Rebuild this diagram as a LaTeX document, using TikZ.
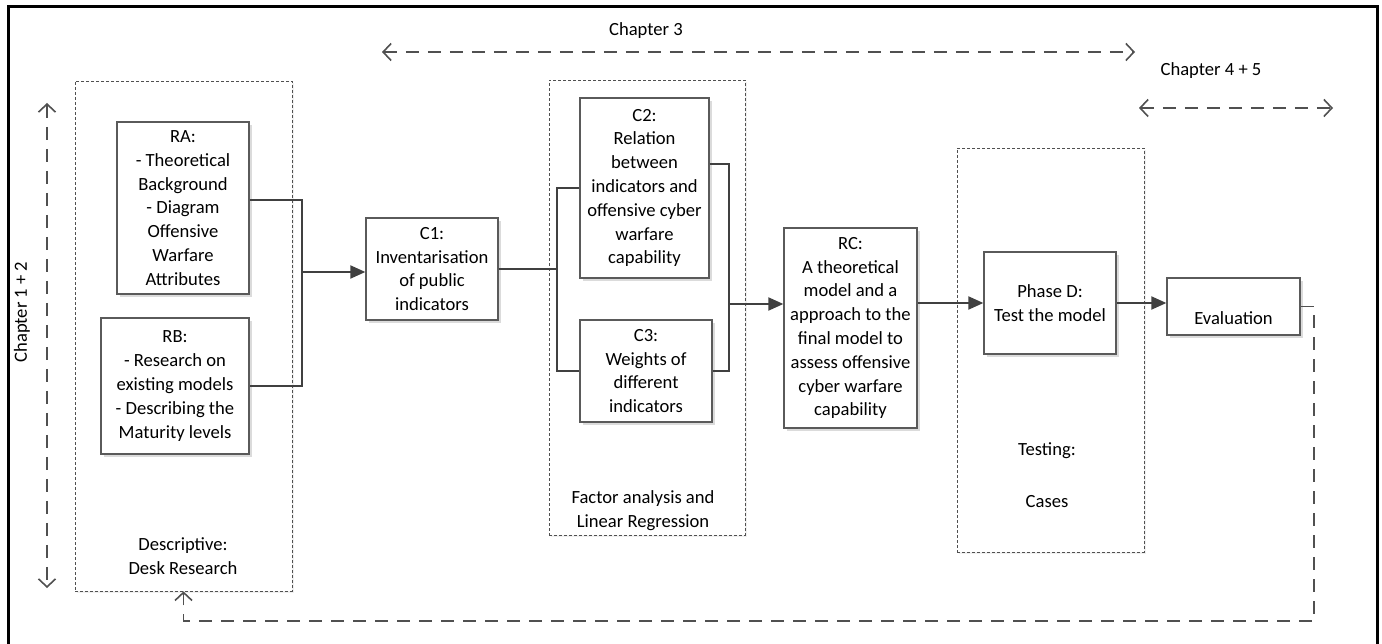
\documentclass[tikz,border=0pt]{standalone}
\usepackage{fontspec}
\setmainfont{Carlito}
\usetikzlibrary{arrows.meta,shadows}
\definecolor{boxgray}{HTML}{5A5A5A}
\definecolor{linegray}{HTML}{404040}
\definecolor{dashgray}{HTML}{505050}
\tikzset{
  every node/.style={font=\fontsize{18.6}{23.8}\selectfont, text=black},
  box/.style={draw=boxgray, line width=1.3pt, fill=white, align=center, inner sep=0pt,
    drop shadow={shadow xshift=3pt, shadow yshift=-3pt, fill=black!14, opacity=1}},
  grp/.style={draw=dashgray, line width=0.8pt, dash pattern=on 3pt off 2pt, inner sep=0pt,
    drop shadow={shadow xshift=2pt, shadow yshift=-2pt, fill=black!6, opacity=1}, fill=white},
  conn/.style={draw=linegray, line width=2pt},
  arr/.style={conn, -{Triangle[length=15pt,width=13pt]}},
  dsh/.style={draw=dashgray, line width=1.8pt, dash pattern=on 13pt off 9pt},
  barb/.tip={Straight Barb[length=8pt,width=17pt,line width=1.6pt]},
  lbl/.style={align=center, inner sep=0pt}
}
\begin{document}
\begin{tikzpicture}[x=1pt,y=-1pt]
\useasboundingbox (0,0) rectangle (1382,644);
\draw[line width=3pt] (8,670) -- (8,7) -- (1377,7) -- (1377,670);

% containers
\node[grp, minimum width=217pt, minimum height=510pt] (desk) at (183.5,336) {};
\node[grp, minimum width=196pt, minimum height=455pt] (fac) at (647,307.5) {};
\node[grp, minimum width=187pt, minimum height=404pt] (test) at (1050.5,350) {};
\node[lbl] (desklbl) at (183,556.5) {Descriptive:\\Desk Research};
\node[lbl] (faclbl) at (643,511) {Factor analysis and\\Linear Regression};
\node[lbl] (testlbl) at (1047,475) {Testing:\\[28pt]Cases};

% boxes
\node[box, minimum width=132pt, minimum height=172pt] (ra) at (183,208)
  {RA:\\- Theoretical\\Background\\- Diagram\\Offensive\\Warfare\\Attributes};
\node[box, minimum width=148pt, minimum height=136pt] (rb) at (175,386)
  {RB:\\- Research on\\existing models\\- Describing the\\Maturity levels};
\node[box, minimum width=132pt, minimum height=102pt] (c1) at (432,269)
  {C1:\\Inventarisation\\of public\\indicators};
\node[box, minimum width=129pt, minimum height=180pt] (c2) at (644.5,188)
  {C2:\\Relation\\between\\indicators and\\offensive cyber\\warfare\\capability};
\node[box, minimum width=132pt, minimum height=102pt] (c3) at (646,371)
  {C3:\\Weights of\\different\\indicators};
\node[box, minimum width=133pt, minimum height=200pt] (rc) at (850.5,328)
  {RC:\\A theoretical\\model and a\\approach to the\\final model to\\assess offensive\\cyber warfare\\capability};
\node[box, minimum width=132pt, minimum height=102pt] (pd) at (1050,303)
  {Phase D:\\Test the model};
\node[box, minimum width=133pt, minimum height=57pt,
  label={[yshift=-11.5pt, inner sep=0pt]center:Evaluation}] (ev) at (1233.5,306.5) {};

% connectors
\coordinate (j1) at (302,272);
\coordinate (j2) at (557,269);
\coordinate (j3) at (729,304);
\draw[conn] ([yshift=8pt]ra.east) -| (j1) |- (rb.east);
\draw[arr] (j1) -- (c1.west |- j1);
\draw[conn] (c1.east) -- (j2);
\draw[conn] (c2.west) -| (j2) |- (c3.west);
\draw[conn] ([yshift=24pt]c2.east) -| (j3) |- (c3.east);
\draw[arr] (j3) -- (rc.west |- j3);
\draw[arr] (rc.east |- pd.west) -- (pd.west);
\draw[arr] (pd.east) -- (ev.west |- pd.east);

% feedback loop
\coordinate (rt) at (1314,621);
\draw[dsh, -barb] (ev.east) -| (rt) -| (desk.south);

% chapter markers
\node (ch3) at (646,31) {Chapter 3};
\node (ch45) at (1211,71) {Chapter 4 + 5};
\node[rotate=90] (ch12) at (22,312) {Chapter 1 + 2};
\coordinate (ch3l) at (382,52);
\coordinate (ch3r) at (1135,52);
\coordinate (ch45l) at (1139,108);
\coordinate (ch45r) at (1333,108);
\coordinate (ch12t) at (47,103);
\coordinate (ch12b) at (47,588);
\draw[dsh, barb-barb] (ch3l) -- (ch3r);
\draw[dsh, barb-barb] (ch45l) -- (ch45r);
\draw[dsh, barb-barb] (ch12t) -- (ch12b);
\end{tikzpicture}
\end{document}
